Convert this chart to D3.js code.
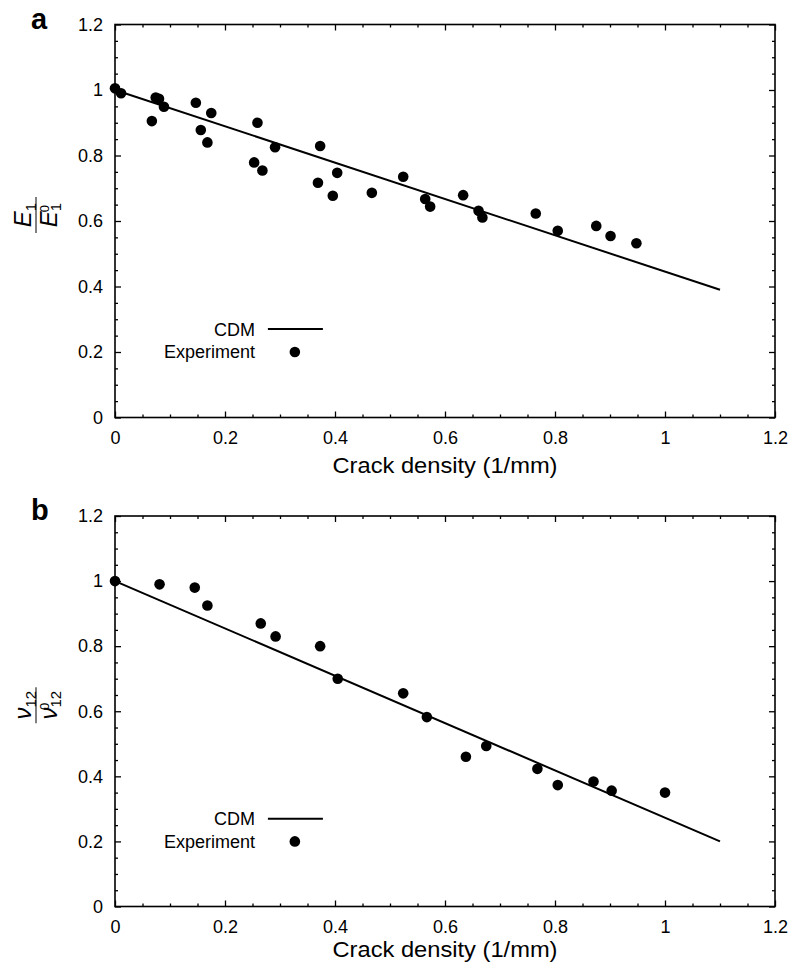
<!DOCTYPE html>
<html>
<head>
<meta charset="utf-8">
<script src="https://cdn.jsdelivr.net/npm/d3@7"></script>
<style>
  body { margin: 0; background: #fff; }
  text { font-family: "Liberation Sans", Arial, sans-serif; fill: #000; }
  .tick line { stroke: #000; stroke-width: 1.3; }
  .tick text { font-size: 18px; }
  .domain { display: none; }
</style>
</head>
<body>
<script>
// ---- data ----
// panel a: E1 / E1^0
var aCrack = [0, 0.011, 0.074, 0.080, 0.089, 0.067, 0.147, 0.175, 0.156, 0.168,
              0.259, 0.291, 0.253, 0.268, 0.373, 0.404, 0.369, 0.396, 0.467, 0.524,
              0.564, 0.573, 0.633, 0.661, 0.668, 0.765, 0.805, 0.875, 0.901, 0.948];
var aRatio = [1.005, 0.990, 0.977, 0.973, 0.949, 0.905, 0.961, 0.930, 0.878, 0.840,
              0.900, 0.825, 0.779, 0.754, 0.829, 0.747, 0.717, 0.677, 0.686, 0.735,
              0.667, 0.644, 0.679, 0.631, 0.611, 0.623, 0.570, 0.585, 0.554, 0.532];
var aCdmX = [0, 1.1];
var aCdmY = [1, 0.39];

// panel b: nu12 / nu12^0
var bCrack = [0, 0.081, 0.145, 0.168, 0.265, 0.292, 0.373, 0.405, 0.524, 0.567,
              0.638, 0.675, 0.768, 0.805, 0.870, 0.903, 1.0];
var bRatio = [1.0, 0.99, 0.98, 0.925, 0.87, 0.83, 0.80, 0.70, 0.655, 0.582,
              0.46, 0.493, 0.423, 0.373, 0.384, 0.356, 0.35];
var bCdmX = [0, 1.1];
var bCdmY = [1, 0.2];

// shared ticks
var majorTicks = [0, 0.2, 0.4, 0.6, 0.8, 1, 1.2];
var minorTicks = [0.05, 0.1, 0.15, 0.25, 0.3, 0.35, 0.45, 0.5, 0.55, 0.65, 0.7, 0.75,
                  0.85, 0.9, 0.95, 1.05, 1.1, 1.15];

var svg_width = 792;
var svg_height = 965;

var svg = d3.select('body').append('svg')
  .attr('width', svg_width)
  .attr('height', svg_height);

var fmt = d => String(+d.toFixed(1));

function drawPanel(opt) {
  var xScale = d3.scaleLinear().domain([0, 1.2]).range([115, 775]);
  var yScale = d3.scaleLinear().domain([0, 1.2]).range([opt.bottom, opt.top]);
  var g = svg.append('g');

  // ticks on all four sides, pointing inward
  var sides = [
    { ax: d3.axisBottom(xScale), t: 'translate(0,' + opt.bottom + ')', lab: true, pad: 14 },
    { ax: d3.axisTop(xScale),    t: 'translate(0,' + opt.top + ')',    lab: false },
    { ax: d3.axisLeft(yScale),   t: 'translate(115,0)',                lab: true, pad: 12 },
    { ax: d3.axisRight(yScale),  t: 'translate(775,0)',                lab: false }
  ];
  sides.forEach(function(s) {
    g.append('g').attr('transform', s.t)
      .call(s.ax.tickValues(majorTicks).tickSizeInner(-6).tickSizeOuter(0)
        .tickPadding(s.pad || 3).tickFormat(s.lab ? fmt : ''));
    g.append('g').attr('transform', s.t)
      .call(s.ax.tickValues(minorTicks).tickSizeInner(-3).tickSizeOuter(0).tickFormat(''));
  });

  // frame
  g.append('rect')
    .attr('x', xScale(0)).attr('y', yScale(1.2))
    .attr('width', xScale(1.2) - xScale(0))
    .attr('height', yScale(0) - yScale(1.2))
    .attr('fill', 'none').attr('stroke', '#000').attr('stroke-width', 1.6);

  // CDM line
  var line = d3.line().x(d => xScale(d[0])).y(d => yScale(d[1]));
  g.append('path')
    .datum(d3.zip(opt.cdmX, opt.cdmY))
    .attr('d', line)
    .attr('fill', 'none').attr('stroke', '#000').attr('stroke-width', 2);

  // experiment points
  g.selectAll('circle.pt')
    .data(d3.zip(opt.xs, opt.ys))
    .enter().append('circle')
    .attr('class', 'pt')
    .attr('cx', d => xScale(d[0]))
    .attr('cy', d => yScale(d[1]))
    .attr('r', 5.3)
    .attr('fill', '#000');

  // legend
  g.append('text').attr('x', xScale(0.2545)).attr('y', yScale(0.27)).attr('dy', '0.36em')
    .attr('text-anchor', 'end').style('font-size', '18px').text('CDM');
  g.append('line')
    .attr('x1', xScale(0.278)).attr('x2', xScale(0.378))
    .attr('y1', yScale(0.27)).attr('y2', yScale(0.27))
    .attr('stroke', '#000').attr('stroke-width', 2);
  g.append('text').attr('x', xScale(0.2545)).attr('y', yScale(0.2)).attr('dy', '0.36em')
    .attr('text-anchor', 'end').style('font-size', '18px').text('Experiment');
  g.append('circle').attr('cx', xScale(0.327)).attr('cy', yScale(0.2)).attr('r', 5.3).attr('fill', '#000');

  // x-axis title
  g.append('text')
    .attr('x', (xScale(0) + xScale(1.2)) / 2)
    .attr('y', opt.bottom + opt.titleGap)
    .attr('text-anchor', 'middle')
    .attr('textLength', 225)
    .attr('lengthAdjust', 'spacingAndGlyphs')
    .style('font-size', '22.5px')
    .text('Crack density (1/mm)');

  // panel letter
  g.append('text')
    .attr('x', 31).attr('y', opt.top + 4)
    .style('font-size', '29px').style('font-weight', 'bold')
    .text(opt.letter);

  // rotated fraction label
  var yc = (opt.top + opt.bottom) / 2 - 6;
  var fr = g.append('g')
    .attr('transform', 'translate(36,' + yc + ') rotate(-90)')
    .style('font-family', '"DejaVu Serif", "Liberation Serif", serif');
  var num = fr.append('text').attr('x', 0).attr('y', -5).attr('text-anchor', 'middle')
    .style('font-size', '24px');
  num.append('tspan').style('font-style', 'italic').text(opt.sym);
  num.append('tspan').attr('dy', 5).style('font-size', '15px').text(opt.sub);
  fr.append('line').attr('x1', -18).attr('x2', 18).attr('y1', 0).attr('y2', 0)
    .attr('stroke', '#000').attr('stroke-width', 1);
  var den = fr.append('text').attr('x', 0).attr('y', 21).attr('text-anchor', 'middle')
    .style('font-size', '24px');
  den.append('tspan').style('font-style', 'italic').text(opt.sym);
  den.append('tspan').attr('dy', 4).style('font-size', '15px').text(opt.sub);
  den.append('tspan').attr('dx', -opt.subW).attr('dy', -12).style('font-size', '13px').text('0');
}

drawPanel({ top: 24.5, bottom: 417.5, xs: aCrack, ys: aRatio, cdmX: aCdmX, cdmY: aCdmY,
            letter: 'a', sym: 'E', sub: '1', subW: 9.5, titleGap: 55 });
drawPanel({ top: 516, bottom: 906.5, xs: bCrack, ys: bRatio, cdmX: bCdmX, cdmY: bCdmY,
            letter: 'b', sym: 'ν', sub: '12', subW: 19, titleGap: 50.5 });
</script>
</body>
</html>
